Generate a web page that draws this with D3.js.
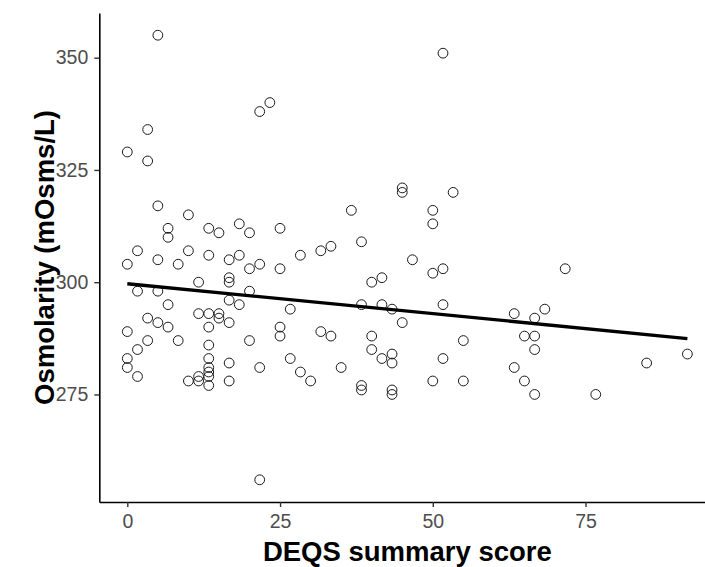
<!DOCTYPE html>
<html>
<head>
<meta charset="utf-8">
<script src="https://cdn.jsdelivr.net/npm/d3@7"></script>
<style>
  html, body { margin: 0; padding: 0; background: #fff; }
  svg { display: block; }
</style>
</head>
<body>
<svg id="chart" width="705" height="567"></svg>
<script>
// ---- data ----
const deqs = [
  5, 23.33, 21.67, 3.33, 0, 3.33,
  51.67, 45, 45, 53.33,
  5, 10, 6.67, 6.67, 13.33, 15, 18.33, 20, 25,
  1.67, 0, 5, 8.33, 10, 13.33, 16.67, 18.33, 20, 21.67, 25,
  16.67, 16.67, 11.67, 1.67, 5, 20, 6.67, 16.67, 18.33, 26.67,
  3.33, 5, 6.67, 11.67, 13.33, 15, 15, 16.67, 13.33,
  0, 3.33, 8.33, 13.33, 20, 25, 25, 1.67,
  0, 0, 1.67, 13.33, 13.33, 13.33, 13.33, 11.67, 11.67, 10, 13.33, 16.67, 16.67, 21.67, 26.67, 21.67,
  36.67, 50, 50, 28.33, 31.67, 33.33, 38.33, 46.67, 50, 51.67, 40, 41.67, 38.33, 41.67, 43.33, 51.67, 45, 31.67, 33.33, 40, 55, 40,
  41.67, 43.33, 43.33, 51.67, 28.33, 30, 35, 38.33, 38.33, 43.33, 43.33, 50, 55,
  71.67, 63.33, 66.67, 68.33, 65, 66.67, 66.67, 63.33, 65, 66.67, 76.67, 85, 91.67
];
const osmolarity = [
  355, 340, 338, 334, 329, 327,
  351, 321, 320, 320,
  317, 315, 312, 310, 312, 311, 313, 311, 312,
  307, 304, 305, 304, 307, 306, 305, 306, 303, 304, 303,
  301, 300, 300, 298, 298, 298, 295, 296, 295, 294,
  292, 291, 290, 293, 293, 293, 292, 291, 290,
  289, 287, 287, 286, 287, 290, 288, 285,
  283, 281, 279, 283, 281, 280, 279, 279, 278, 278, 277, 282, 278, 281, 283, 256,
  316, 316, 313, 306, 307, 308, 309, 305, 302, 303, 300, 301, 295, 295, 294, 295, 291, 289, 288, 288, 287, 285,
  283, 284, 282, 283, 280, 278, 281, 277, 276, 276, 275, 278, 278,
  303, 293, 292, 294, 288, 288, 285, 281, 278, 275, 275, 282, 284
];
const xTicks = [0, 25, 50, 75];
const yTicks = [275, 300, 325, 350];
const xTitle = "DEQS summary score";
const yTitle = "Osmolarity (mOsms/L)";

// ---- layout ----
const svg = d3.select("#chart");
const panel = { left: 99.3, right: 715.4, top: 13, bottom: 502 };

const xMin = d3.min(deqs), xMax = d3.max(deqs);
const yMin = d3.min(osmolarity), yMax = d3.max(osmolarity);
const xPad = (xMax - xMin) * 0.05, yPad = (yMax - yMin) * 0.05;

const x = d3.scaleLinear().domain([xMin - xPad, xMax + xPad]).range([panel.left, panel.right]);
const y = d3.scaleLinear().domain([yMin - yPad, yMax + yPad]).range([panel.bottom, panel.top]);

const points = deqs.map((d, i) => ({ x: d, y: osmolarity[i] }));

// linear fit (lm)
const mx = d3.mean(points, p => p.x), my = d3.mean(points, p => p.y);
const sxy = d3.sum(points, p => (p.x - mx) * (p.y - my));
const sxx = d3.sum(points, p => (p.x - mx) * (p.x - mx));
const slope = sxy / sxx, intercept = my - slope * mx;
const fit = [xMin, xMax].map(v => ({ x: v, y: intercept + slope * v }));

// points
svg.append("g").selectAll("circle").data(points).join("circle")
  .attr("cx", d => x(d.x)).attr("cy", d => y(d.y)).attr("r", 4.9)
  .attr("fill", "none").attr("stroke", "#1a1a1a").attr("stroke-width", 1);

// regression line
svg.append("path").datum(fit)
  .attr("d", d3.line().x(d => x(d.x)).y(d => y(d.y)))
  .attr("fill", "none").attr("stroke", "#000").attr("stroke-width", 3.3);

// axes
const xAxis = svg.append("g").attr("transform", `translate(0,${panel.bottom})`)
  .call(d3.axisBottom(x).tickValues(xTicks).tickSize(5).tickPadding(7).tickSizeOuter(0));
const yAxis = svg.append("g").attr("transform", `translate(${panel.left},0)`)
  .call(d3.axisLeft(y).tickValues(yTicks).tickSize(5).tickPadding(6).tickSizeOuter(0));

[xAxis, yAxis].forEach(g => {
  g.select(".domain").attr("stroke", "#000").attr("stroke-width", 1.6);
  g.selectAll(".tick line").attr("stroke", "#333").attr("stroke-width", 1.4);
  g.selectAll(".tick text").attr("fill", "#4d4d4d")
    .attr("font-family", "'Liberation Sans', Arial, sans-serif").attr("font-size", 19.5);
});

// titles
svg.append("text")
  .attr("x", (panel.left + panel.right) / 2).attr("y", 561)
  .attr("text-anchor", "middle")
  .attr("font-family", "'Liberation Sans', Arial, sans-serif")
  .attr("font-weight", "bold").attr("font-size", 27.5).attr("fill", "#000")
  .text(xTitle);

svg.append("text")
  .attr("transform", `translate(54,${(panel.top + panel.bottom) / 2}) rotate(-90)`)
  .attr("text-anchor", "middle")
  .attr("font-family", "'Liberation Sans', Arial, sans-serif")
  .attr("font-weight", "bold").attr("font-size", 27.5).attr("fill", "#000")
  .text(yTitle);
</script>
</body>
</html>
